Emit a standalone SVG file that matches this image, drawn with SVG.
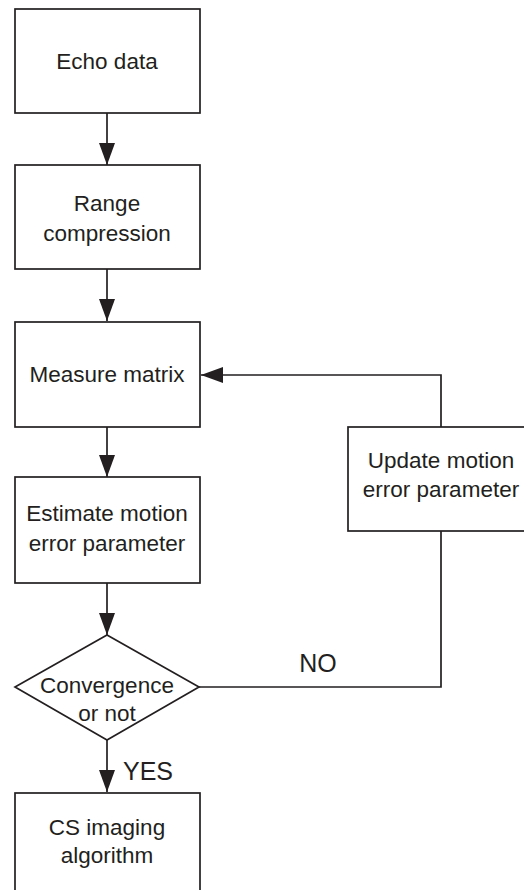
<svg xmlns="http://www.w3.org/2000/svg" width="524" height="890" viewBox="0 0 524 890">
<style>
.box{fill:#fff;stroke:#231f20;stroke-width:1.7}
.ln{fill:none;stroke:#231f20;stroke-width:1.7}
text{font-family:"Liberation Sans",Arial,sans-serif;font-size:22.5px;fill:#231f20;text-anchor:middle;dominant-baseline:central}
.lbl{font-size:25px}
</style>
<defs>
<marker id="ah" markerUnits="userSpaceOnUse" markerWidth="24" markerHeight="18" refX="22" refY="8" orient="auto">
<path d="M0,0 L22,8 L0,16 Z" fill="#231f20"/>
</marker>
</defs>
<rect width="524" height="890" fill="#fff"/>
<g id="connectors">
<line class="ln" x1="107" y1="113" x2="107" y2="165" marker-end="url(#ah)"/>
<line class="ln" x1="107" y1="269" x2="107" y2="321" marker-end="url(#ah)"/>
<line class="ln" x1="107" y1="427" x2="107" y2="477" marker-end="url(#ah)"/>
<line class="ln" x1="107" y1="583" x2="107" y2="635" marker-end="url(#ah)"/>
<line class="ln" x1="107" y1="740" x2="107" y2="792" marker-end="url(#ah)"/>
<polyline class="ln" points="199,687 441,687 441,531"/>
<polyline class="ln" points="441,427 441,375 201,375" marker-end="url(#ah)"/>
<text class="lbl" x="318" y="663">NO</text>
<text class="lbl" x="148" y="771">YES</text>
</g>
<g id="echo">
<rect class="box" x="15" y="9" width="185" height="104"/>
<text x="107" y="61">Echo data</text>
</g>
<g id="range">
<rect class="box" x="15" y="165" width="185" height="104"/>
<text x="107" y="203">Range</text>
<text x="107" y="233">compression</text>
</g>
<g id="measure">
<rect class="box" x="15" y="322" width="185" height="105"/>
<text x="107" y="374">Measure matrix</text>
</g>
<g id="estimate">
<rect class="box" x="15" y="477" width="185" height="106"/>
<text x="107" y="513">Estimate motion</text>
<text x="107" y="543">error parameter</text>
</g>
<g id="update">
<rect class="box" x="348" y="427" width="186" height="104"/>
<text x="441" y="460">Update motion</text>
<text x="441" y="489">error parameter</text>
</g>
<g id="convergence">
<polygon class="box" points="107,635 199,687 107,740 15,687"/>
<text x="107" y="685">Convergence</text>
<text x="107" y="713">or not</text>
</g>
<g id="cs">
<rect class="box" x="15" y="793" width="185" height="104"/>
<text x="107" y="827">CS imaging</text>
<text x="107" y="855">algorithm</text>
</g>
</svg>
